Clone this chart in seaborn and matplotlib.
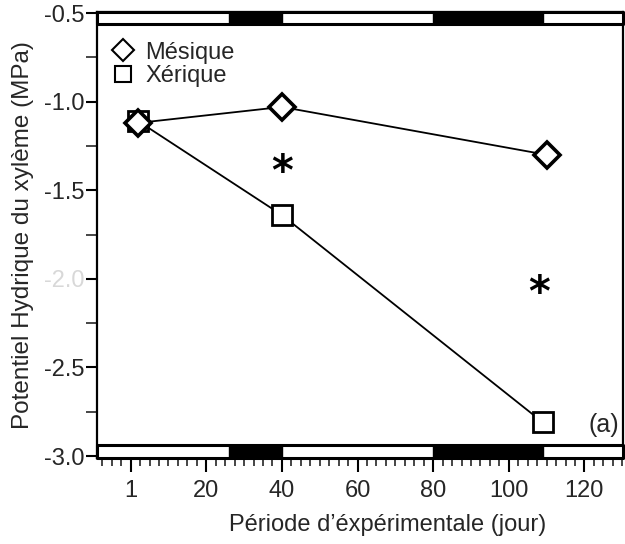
import matplotlib
matplotlib.use("Agg")
import matplotlib.pyplot as plt
import numpy as np
import pandas as pd
import seaborn as sns
from matplotlib.lines import Line2D
from matplotlib.ticker import FixedLocator, MultipleLocator

# ---- data ----
jours_mesique = [2, 40, 110]
psi_mesique = [-1.12, -1.03, -1.30]
jours_xerique = [2, 40, 109]
psi_xerique = [-1.11, -1.64, -2.81]
traitements = ["Mésique", "Xérique"]
etoiles_x = [40, 108]
etoiles_y = [-1.35, -2.03]
periodes_sombres = [(26, 40), (80, 109)]
x_ticks = [0, 20, 40, 60, 80, 100, 120]
x_tick_labels = ["1", "20", "40", "60", "80", "100", "120"]
y_ticks = [-3.0, -2.5, -2.0, -1.5, -1.0, -0.5]
y_tick_labels = ["-3.0", "-2.5", "-2.0", "-1.5", "-1.0", "-0.5"]

df_m = pd.DataFrame({"jour": jours_mesique, "psi": psi_mesique, "traitement": traitements[0]})
df_x = pd.DataFrame({"jour": jours_xerique, "psi": psi_xerique, "traitement": traitements[1]})

sns.set_theme(style="ticks")
plt.rcParams["font.family"] = ["Liberation Sans", "DejaVu Sans"]
plt.rcParams["axes.unicode_minus"] = False

fig = plt.figure(figsize=(6.25, 5.44), dpi=100)
ax = fig.add_axes([0.1552, 0.1581, 0.8416, 0.8199])

XMIN, XMAX = -8.9, 130.2
YMIN, YMAX = -3.011, -0.494
ax.set_xlim(XMIN, XMAX)
ax.set_ylim(YMIN, YMAX)

# light/dark period bars (top and bottom)
bars = [(YMAX - 0.068, 0.068), (YMIN, 0.073)]
for (y0, h) in bars:
    ax.broken_barh([(XMIN, XMAX - XMIN)], (y0, h), facecolor="white",
                   edgecolor="black", linewidth=2.2, zorder=3, clip_on=False)
    ax.broken_barh([(a, b - a) for a, b in periodes_sombres], (y0, h),
                   facecolor="black", edgecolor="black", linewidth=1, zorder=4)

sns.lineplot(data=df_x, x="jour", y="psi", color="black", linewidth=1.3,
             marker="s", markersize=14, markerfacecolor="white",
             markeredgecolor="black", markeredgewidth=2.0, ax=ax,
             estimator=None, sort=False, legend=False, zorder=5)
sns.lineplot(data=df_m, x="jour", y="psi", color="black", linewidth=1.3,
             marker="D", markersize=13, markerfacecolor="white",
             markeredgecolor="black", markeredgewidth=2.6, ax=ax,
             estimator=None, sort=False, legend=False, zorder=6)

for ex, ey in zip(etoiles_x, etoiles_y):
    ax.annotate("*", (ex, ey), xytext=(0, -7), textcoords="offset points",
                ha="center", va="center", fontsize=30, fontweight="bold",
                family="DejaVu Sans", color="black")

ax.text(125, -2.825, "(a)", ha="center", va="center", fontsize=18)

handles = [
    Line2D([], [], linestyle="none", marker="D", markersize=11,
           markerfacecolor="white", markeredgecolor="black", markeredgewidth=1.5),
    Line2D([], [], linestyle="none", marker="s", markersize=12,
           markerfacecolor="white", markeredgecolor="black", markeredgewidth=1.5),
]
ax.legend(handles, traitements, loc="upper left", bbox_to_anchor=(0.0, 0.965),
          frameon=False, fontsize=17, handlelength=1.0, handletextpad=0.45,
          labelspacing=0.05, borderaxespad=0.2)

ax.xaxis.set_major_locator(FixedLocator(x_ticks))
ax.set_xticklabels(x_tick_labels)
ax.xaxis.set_minor_locator(MultipleLocator(2.5))
ax.yaxis.set_major_locator(FixedLocator(y_ticks))
ax.set_yticklabels(y_tick_labels)
ax.yaxis.set_minor_locator(MultipleLocator(0.25))

ax.tick_params(axis="x", which="major", length=10, width=1.5, labelsize=17,
               direction="out", pad=6, color="black")
ax.tick_params(axis="x", which="minor", length=6, width=1.2, direction="out")
ax.tick_params(axis="y", which="major", length=8, width=1.5, labelsize=17,
               direction="out", pad=1, color="black")
ax.tick_params(axis="y", which="minor", length=8, width=1.2, direction="out")
for lbl in ax.get_yticklabels():
    if lbl.get_text() == "-2.0":
        lbl.set_color("#d8d8d8")

for side in ["left", "bottom", "right", "top"]:
    ax.spines[side].set_color("black")
    ax.spines[side].set_linewidth(1.6)

ax.set_xlabel("Période d’éxpérimentale (jour)", fontsize=17)
ax.xaxis.set_label_coords(0.553, -0.125)
ax.set_ylabel("Potentiel Hydrique du xylème (MPa)", fontsize=17.5)
ax.yaxis.set_label_coords(-0.12, 0.5)

fig.savefig("out.png", dpi=100, facecolor="white")
